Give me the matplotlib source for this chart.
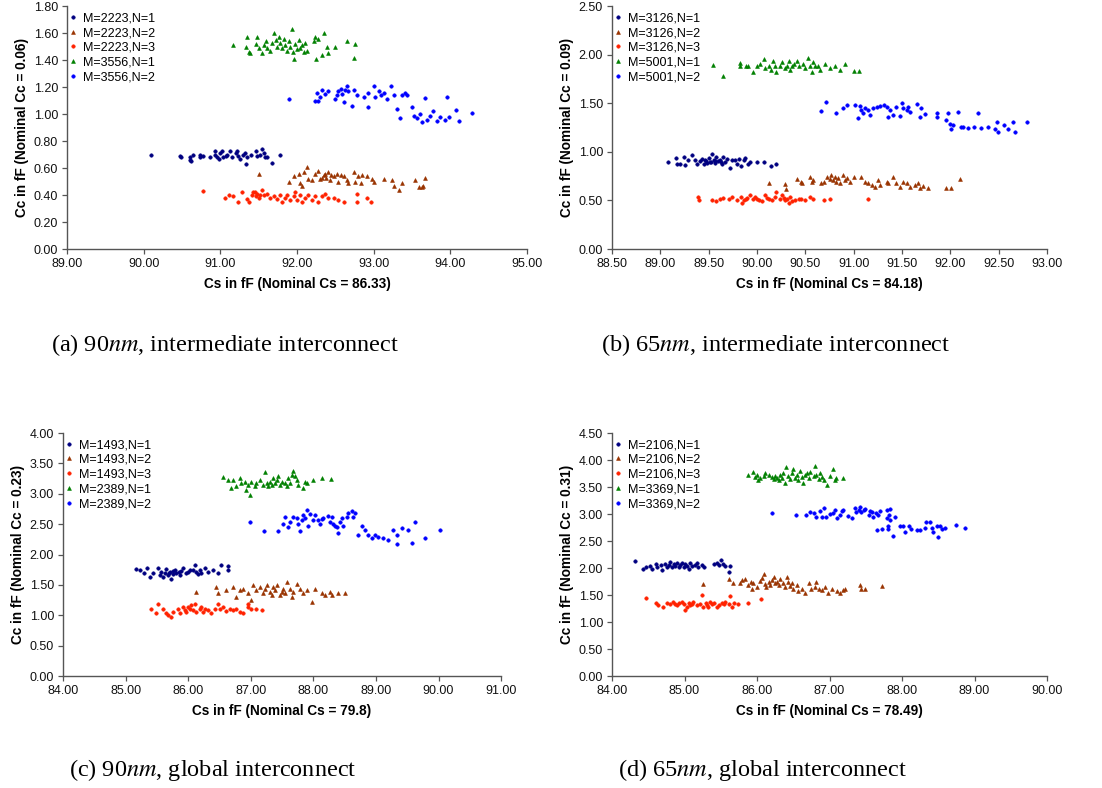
import matplotlib
matplotlib.use("Agg")
import matplotlib.pyplot as plt
import numpy as np
from matplotlib.ticker import FormatStrFormatter, MultipleLocator

plt.rcParams['font.family'] = ['Liberation Sans', 'DejaVu Sans']
plt.rcParams['mathtext.fontset'] = 'stix'

# ---------------- datos (Cs, Cc) ----------------
# (a) 90nm intermedio
a_m1_n1 = [(90.09,0.70),(90.48,0.69),(90.49,0.68),(90.60,0.68),(90.61,0.66),(90.64,0.70),(90.62,0.65),(90.73,0.68),(90.74,0.70),(90.78,0.69),(90.87,0.68),(90.93,0.73),(90.93,0.70),(90.96,0.68),(91.00,0.71),(91.02,0.73),(91.04,0.68),(91.09,0.70),(91.13,0.73),(91.15,0.68),(91.20,0.71),(91.22,0.73),(91.23,0.69),(91.26,0.67),(91.30,0.70),(91.32,0.71),(91.33,0.63),(91.35,0.68),(91.46,0.73),(91.48,0.69),(91.52,0.70),(91.55,0.74),(91.58,0.68),(91.61,0.68),(91.67,0.64),(91.78,0.70),(90.98,0.67),(91.07,0.69),(91.40,0.70),(91.57,0.71)]
a_m1_n2 = [(91.50,0.56),(91.89,0.50),(91.96,0.54),(92.02,0.56),(92.04,0.49),(92.07,0.47),(92.09,0.57),(92.13,0.61),(92.15,0.52),(92.20,0.51),(92.24,0.56),(92.28,0.58),(92.30,0.52),(92.35,0.55),(92.37,0.56),(92.41,0.57),(92.43,0.51),(92.48,0.54),(92.52,0.56),(92.54,0.50),(92.57,0.55),(92.61,0.54),(92.65,0.51),(92.67,0.49),(92.74,0.57),(92.76,0.50),(92.80,0.54),(92.83,0.49),(92.85,0.55),(92.91,0.54),(92.98,0.52),(93.00,0.50),(93.13,0.52),(93.24,0.51),(93.26,0.47),(93.33,0.44),(93.37,0.49),(93.54,0.51),(93.59,0.46),(93.63,0.46),(93.65,0.47),(93.67,0.53),(92.38,0.53),(92.45,0.55),(92.33,0.53)]
a_m1_n3 = [(90.77,0.43),(91.06,0.38),(91.11,0.40),(91.17,0.39),(91.23,0.35),(91.28,0.42),(91.35,0.37),(91.37,0.35),(91.41,0.40),(91.43,0.42),(91.46,0.39),(91.48,0.41),(91.50,0.38),(91.54,0.44),(91.57,0.40),(91.61,0.41),(91.65,0.38),(91.70,0.39),(91.74,0.37),(91.78,0.40),(91.80,0.35),(91.85,0.38),(91.87,0.40),(91.91,0.36),(91.96,0.39),(91.98,0.42),(92.00,0.36),(92.04,0.40),(92.07,0.35),(92.11,0.38),(92.15,0.40),(92.20,0.36),(92.24,0.39),(92.28,0.35),(92.33,0.39),(92.37,0.41),(92.41,0.38),(92.48,0.38),(92.54,0.36),(92.61,0.35),(92.78,0.41),(92.78,0.35),(92.91,0.38),(92.96,0.35),(91.45,0.42),(91.52,0.40)]
a_m2_n1 = [(91.17,1.51),(91.33,1.50),(91.35,1.57),(91.37,1.46),(91.39,1.45),(91.46,1.52),(91.48,1.57),(91.50,1.49),(91.54,1.45),(91.57,1.51),(91.59,1.54),(91.61,1.49),(91.65,1.47),(91.67,1.53),(91.70,1.60),(91.72,1.55),(91.74,1.50),(91.76,1.57),(91.78,1.53),(91.80,1.49),(91.83,1.56),(91.85,1.51),(91.87,1.47),(91.89,1.54),(91.91,1.50),(91.93,1.63),(91.95,1.46),(91.96,1.41),(91.98,1.52),(92.00,1.48),(92.02,1.55),(92.04,1.49),(92.07,1.51),(92.09,1.46),(92.11,1.53),(92.13,1.47),(92.22,1.54),(92.24,1.57),(92.25,1.41),(92.28,1.56),(92.33,1.44),(92.35,1.60),(92.39,1.50),(92.41,1.45),(92.50,1.50),(92.65,1.54),(92.74,1.42),(92.76,1.52)]
a_m2_n2 = [(91.90,1.11),(92.24,1.10),(92.26,1.16),(92.28,1.10),(92.30,1.13),(92.33,1.18),(92.37,1.15),(92.41,1.17),(92.50,1.11),(92.52,1.14),(92.54,1.17),(92.57,1.19),(92.59,1.15),(92.61,1.09),(92.63,1.18),(92.65,1.21),(92.67,1.17),(92.72,1.06),(92.74,1.18),(92.78,1.14),(92.87,1.13),(92.92,1.05),(92.93,1.16),(93.00,1.21),(93.02,1.13),(93.07,1.17),(93.09,1.14),(93.13,1.16),(93.17,1.11),(93.23,1.21),(93.26,1.14),(93.30,1.04),(93.35,0.97),(93.37,1.14),(93.41,1.16),(93.43,1.14),(93.50,1.05),(93.52,0.99),(93.57,0.97),(93.61,1.00),(93.63,0.94),(93.67,1.12),(93.70,0.96),(93.74,0.99),(93.78,1.02),(93.83,0.95),(93.87,0.98),(93.93,0.96),(93.96,1.13),(93.98,0.98),(94.07,1.03),(94.11,0.95),(94.28,1.01)]

# (b) 65nm intermedio
b_m1_n1 = [(89.08,0.90),(89.16,0.94),(89.17,0.88),(89.20,0.88),(89.24,0.95),(89.25,0.87),(89.29,0.92),(89.33,0.97),(89.36,0.92),(89.38,0.88),(89.41,0.91),(89.43,0.93),(89.45,0.88),(89.46,0.92),(89.48,0.89),(89.50,0.94),(89.52,0.90),(89.53,0.98),(89.55,0.92),(89.57,0.89),(89.58,0.95),(89.60,0.91),(89.62,0.92),(89.64,0.88),(89.65,0.95),(89.67,0.90),(89.69,0.93),(89.72,0.83),(89.74,0.92),(89.77,0.92),(89.79,0.88),(89.81,0.93),(89.83,0.86),(89.86,0.92),(89.88,0.94),(89.91,0.88),(89.93,0.90),(90.00,0.90),(90.07,0.90),(90.14,0.86),(90.20,0.88),(89.47,0.91),(89.51,0.90),(89.56,0.91),(89.63,0.90)]
b_m1_n2 = [(90.12,0.68),(90.29,0.67),(90.30,0.62),(90.41,0.72),(90.45,0.69),(90.47,0.68),(90.55,0.74),(90.57,0.69),(90.58,0.71),(90.66,0.68),(90.69,0.69),(90.72,0.74),(90.75,0.72),(90.77,0.76),(90.79,0.71),(90.81,0.74),(90.82,0.69),(90.84,0.73),(90.86,0.68),(90.89,0.76),(90.91,0.71),(90.93,0.73),(90.96,0.69),(91.00,0.74),(91.08,0.74),(91.12,0.69),(91.15,0.68),(91.19,0.66),(91.22,0.64),(91.25,0.71),(91.27,0.66),(91.34,0.69),(91.36,0.68),(91.41,0.74),(91.44,0.68),(91.48,0.64),(91.51,0.69),(91.55,0.68),(91.58,0.64),(91.63,0.66),(91.67,0.68),(91.69,0.63),(91.72,0.65),(91.77,0.63),(91.96,0.63),(92.01,0.63),(92.10,0.72)]
b_m1_n3 = [(89.39,0.54),(89.40,0.50),(89.53,0.50),(89.58,0.49),(89.62,0.52),(89.65,0.53),(89.71,0.52),(89.74,0.54),(89.79,0.50),(89.83,0.54),(89.84,0.47),(89.86,0.50),(89.89,0.52),(89.93,0.56),(89.96,0.52),(89.98,0.54),(90.02,0.50),(90.05,0.49),(90.08,0.56),(90.12,0.52),(90.15,0.50),(90.19,0.54),(90.20,0.59),(90.24,0.52),(90.26,0.56),(90.29,0.50),(90.31,0.52),(90.34,0.54),(90.36,0.49),(90.39,0.50),(90.43,0.51),(90.46,0.52),(90.50,0.50),(90.55,0.54),(90.58,0.52),(90.69,0.50),(90.76,0.52),(91.15,0.52),(89.90,0.53),(90.00,0.52),(90.10,0.53),(90.28,0.53),(90.33,0.47)]
b_m2_n1 = [(89.54,1.90),(89.65,1.78),(89.82,1.92),(89.82,1.88),(89.89,1.88),(89.91,1.89),(89.96,1.82),(90.00,1.89),(90.03,1.91),(90.07,1.96),(90.08,1.86),(90.12,1.89),(90.14,1.84),(90.17,1.94),(90.19,1.89),(90.20,1.82),(90.24,1.88),(90.26,1.93),(90.29,1.86),(90.31,1.89),(90.33,1.94),(90.34,1.84),(90.36,1.88),(90.38,1.91),(90.41,1.94),(90.43,1.88),(90.48,1.91),(90.50,1.86),(90.53,1.97),(90.55,1.89),(90.57,1.82),(90.58,1.93),(90.60,1.88),(90.63,1.89),(90.65,1.84),(90.70,1.91),(90.76,1.86),(90.81,1.88),(90.86,1.84),(90.91,1.91),(91.00,1.83),(91.05,1.83)]
b_m2_n2 = [(90.66,1.42),(90.71,1.51),(90.82,1.40),(90.89,1.45),(90.93,1.48),(91.01,1.48),(91.04,1.35),(91.07,1.47),(91.08,1.43),(91.10,1.40),(91.12,1.45),(91.15,1.43),(91.17,1.38),(91.20,1.45),(91.24,1.46),(91.27,1.47),(91.31,1.48),(91.34,1.46),(91.36,1.36),(91.38,1.43),(91.41,1.38),(91.44,1.46),(91.48,1.37),(91.50,1.50),(91.51,1.45),(91.55,1.43),(91.56,1.46),(91.58,1.41),(91.65,1.49),(91.69,1.36),(91.70,1.45),(91.74,1.39),(91.86,1.40),(91.86,1.36),(91.96,1.33),(91.98,1.40),(92.00,1.29),(92.01,1.24),(92.03,1.28),(92.08,1.41),(92.11,1.26),(92.13,1.26),(92.18,1.25),(92.24,1.26),(92.29,1.40),(92.32,1.25),(92.39,1.26),(92.46,1.24),(92.48,1.31),(92.49,1.21),(92.55,1.28),(92.60,1.24),(92.65,1.31),(92.67,1.21),(92.79,1.31)]

# (c) 90nm global
c_m1_n1 = [(85.17,1.76),(85.23,1.74),(85.29,1.70),(85.34,1.77),(85.39,1.63),(85.44,1.70),(85.52,1.77),(85.55,1.66),(85.57,1.72),(85.60,1.63),(85.63,1.69),(85.65,1.76),(85.68,1.66),(85.71,1.72),(85.73,1.59),(85.76,1.68),(85.79,1.74),(85.81,1.70),(85.87,1.66),(85.89,1.73),(85.92,1.77),(85.97,1.70),(86.03,1.74),(86.11,1.82),(86.13,1.72),(86.16,1.68),(86.19,1.74),(86.21,1.70),(86.27,1.77),(86.32,1.72),(86.40,1.74),(86.48,1.70),(86.52,1.82),(86.64,1.81),(86.64,1.74),(85.70,1.70),(85.75,1.73),(85.85,1.71),(86.00,1.72),(86.08,1.75)]
c_m1_n2 = [(86.12,1.38),(86.45,1.46),(86.48,1.36),(86.61,1.41),(86.72,1.47),(86.77,1.30),(86.83,1.41),(86.88,1.44),(86.96,1.37),(87.01,1.25),(87.04,1.50),(87.09,1.41),(87.15,1.47),(87.20,1.36),(87.23,1.44),(87.26,1.50),(87.31,1.39),(87.34,1.33),(87.36,1.47),(87.39,1.41),(87.42,1.50),(87.47,1.33),(87.50,1.39),(87.52,1.44),(87.55,1.36),(87.58,1.55),(87.63,1.44),(87.66,1.30),(87.68,1.39),(87.74,1.52),(87.79,1.44),(87.84,1.36),(87.90,1.41),(87.98,1.22),(88.03,1.44),(88.14,1.37),(88.19,1.33),(88.27,1.39),(88.30,1.33),(88.40,1.36),(88.51,1.37)]
c_m1_n3 = [(85.40,1.11),(85.49,1.04),(85.52,1.18),(85.59,1.10),(85.65,1.04),(85.68,1.00),(85.73,0.97),(85.76,1.06),(85.84,1.10),(85.87,1.04),(85.92,1.14),(85.95,1.08),(85.97,1.06),(86.00,1.14),(86.03,1.11),(86.05,1.17),(86.08,1.08),(86.11,1.19),(86.13,1.06),(86.19,1.11),(86.21,1.14),(86.24,1.06),(86.27,1.11),(86.32,1.08),(86.37,1.04),(86.43,1.11),(86.48,1.19),(86.51,1.10),(86.56,1.14),(86.61,1.07),(86.67,1.11),(86.72,1.08),(86.77,1.11),(86.83,1.06),(86.87,1.04),(86.95,1.18),(86.96,1.14),(87.01,1.10),(87.09,1.10),(87.18,1.09)]
c_m2_n1 = [(86.55,3.27),(86.64,3.23),(86.69,3.09),(86.72,3.22),(86.77,3.12),(86.82,3.26),(86.85,3.18),(86.91,3.20),(86.93,3.07),(86.96,3.15),(86.99,2.98),(87.01,3.20),(87.07,3.12),(87.09,3.18),(87.15,3.23),(87.20,3.15),(87.23,3.35),(87.26,3.18),(87.28,3.12),(87.31,3.20),(87.34,3.15),(87.36,3.26),(87.39,3.18),(87.42,3.22),(87.44,3.29),(87.47,3.15),(87.50,3.20),(87.55,3.18),(87.58,3.12),(87.60,3.26),(87.63,3.18),(87.66,3.31),(87.68,3.37),(87.71,3.29),(87.74,3.23),(87.76,3.15),(87.84,3.09),(87.87,3.20),(87.90,3.18),(88.00,3.23),(88.14,3.26),(88.28,3.24)]
c_m2_n2 = [(86.98,2.54),(87.21,2.39),(87.44,2.39),(87.51,2.51),(87.55,2.61),(87.60,2.46),(87.63,2.54),(87.68,2.62),(87.74,2.60),(87.76,2.51),(87.79,2.38),(87.82,2.57),(87.84,2.65),(87.87,2.60),(87.90,2.73),(87.92,2.47),(87.95,2.67),(88.00,2.57),(88.03,2.65),(88.08,2.57),(88.11,2.50),(88.14,2.58),(88.16,2.60),(88.24,2.64),(88.27,2.54),(88.30,2.62),(88.32,2.51),(88.35,2.47),(88.38,2.46),(88.40,2.35),(88.43,2.54),(88.46,2.60),(88.48,2.47),(88.54,2.62),(88.56,2.69),(88.62,2.71),(88.64,2.61),(88.67,2.69),(88.72,2.32),(88.78,2.47),(88.83,2.40),(88.88,2.32),(88.94,2.27),(88.99,2.32),(89.04,2.29),(89.12,2.27),(89.20,2.24),(89.28,2.40),(89.34,2.32),(89.34,2.17),(89.42,2.43),(89.52,2.40),(89.58,2.19),(89.63,2.54),(89.79,2.28),(90.02,2.40)]

# (d) 65nm global
d_m1_n1 = [(84.31,2.13),(84.43,1.98),(84.47,2.02),(84.53,2.04),(84.55,1.98),(84.60,2.07),(84.62,2.02),(84.67,2.06),(84.69,1.96),(84.73,2.07),(84.76,2.02),(84.78,2.06),(84.80,2.12),(84.83,2.02),(84.85,2.07),(84.87,2.04),(84.90,2.09),(84.92,2.02),(84.94,2.06),(84.96,2.10),(84.99,2.01),(85.01,2.07),(85.03,2.04),(85.06,1.99),(85.08,2.09),(85.10,2.04),(85.15,2.06),(85.17,2.10),(85.19,2.02),(85.24,2.06),(85.27,2.02),(85.40,2.07),(85.45,2.10),(85.47,2.06),(85.50,2.14),(85.53,2.07),(85.56,2.04),(85.61,1.93),(85.63,2.04)]
d_m1_n2 = [(85.26,1.70),(85.62,1.79),(85.67,1.73),(85.77,1.72),(85.79,1.78),(85.84,1.79),(85.88,1.68),(85.91,1.75),(85.93,1.62),(85.95,1.72),(86.00,1.65),(86.04,1.76),(86.07,1.81),(86.09,1.89),(86.11,1.70),(86.13,1.65),(86.16,1.75),(86.18,1.68),(86.20,1.78),(86.23,1.83),(86.25,1.72),(86.27,1.75),(86.30,1.68),(86.32,1.79),(86.36,1.72),(86.39,1.65),(86.41,1.83),(86.43,1.75),(86.46,1.67),(86.48,1.72),(86.50,1.62),(86.55,1.68),(86.57,1.58),(86.62,1.62),(86.66,1.53),(86.71,1.72),(86.75,1.62),(86.80,1.65),(86.82,1.75),(86.85,1.62),(86.89,1.59),(86.94,1.65),(86.98,1.53),(87.03,1.62),(87.10,1.58),(87.15,1.53),(87.19,1.59),(87.21,1.62),(87.42,1.68),(87.44,1.62),(87.49,1.62),(87.73,1.67)]
d_m1_n3 = [(84.47,1.44),(84.61,1.36),(84.64,1.31),(84.70,1.28),(84.76,1.36),(84.80,1.33),(84.84,1.37),(84.87,1.34),(84.90,1.31),(84.93,1.36),(84.96,1.37),(84.99,1.33),(85.01,1.22),(85.03,1.28),(85.06,1.36),(85.08,1.31),(85.10,1.34),(85.12,1.37),(85.17,1.31),(85.22,1.34),(85.24,1.50),(85.26,1.28),(85.29,1.36),(85.31,1.31),(85.33,1.27),(85.35,1.37),(85.38,1.33),(85.40,1.36),(85.45,1.28),(85.47,1.31),(85.52,1.36),(85.54,1.33),(85.56,1.37),(85.61,1.34),(85.63,1.48),(85.65,1.28),(85.68,1.36),(85.74,1.34),(85.87,1.36),(86.05,1.42)]
d_m2_n1 = [(85.88,3.73),(85.94,3.77),(85.97,3.68),(86.00,3.73),(86.02,3.63),(86.04,3.66),(86.09,3.71),(86.11,3.76),(86.16,3.73),(86.20,3.68),(86.23,3.65),(86.25,3.70),(86.27,3.66),(86.30,3.63),(86.32,3.73),(86.34,3.66),(86.36,3.76),(86.39,3.57),(86.40,3.87),(86.43,3.70),(86.46,3.65),(86.48,3.76),(86.50,3.83),(86.53,3.66),(86.55,3.73),(86.57,3.63),(86.59,3.79),(86.62,3.68),(86.64,3.57),(86.66,3.73),(86.69,3.76),(86.71,3.66),(86.73,3.77),(86.78,3.71),(86.80,3.88),(86.82,3.73),(86.85,3.65),(86.87,3.76),(86.89,3.68),(86.92,3.63),(86.96,3.54),(87.01,3.70),(87.05,3.83),(87.08,3.63),(87.09,3.66),(87.19,3.66)]
d_m2_n2 = [(86.20,3.01),(86.54,2.98),(86.68,2.98),(86.73,3.03),(86.78,3.01),(86.82,2.95),(86.87,3.05),(86.89,2.94),(86.92,3.11),(86.95,2.95),(87.01,3.00),(87.05,3.01),(87.08,3.08),(87.10,2.92),(87.14,2.98),(87.17,3.05),(87.19,3.08),(87.26,2.97),(87.31,2.92),(87.35,3.11),(87.37,3.03),(87.40,3.08),(87.42,3.13),(87.44,3.03),(87.47,3.08),(87.49,3.09),(87.54,2.98),(87.56,3.06),(87.58,3.03),(87.60,2.95),(87.64,3.01),(87.67,2.98),(87.70,3.06),(87.79,3.08),(87.79,2.92),(87.82,2.98),(87.83,2.89),(87.84,3.09),(87.66,2.71),(87.72,2.72),(87.80,2.77),(87.81,2.72),(87.88,2.59),(87.90,2.95),(87.97,2.77),(88.01,2.78),(88.04,2.67),(88.09,2.78),(88.13,2.72),(88.20,2.71),(88.25,2.71),(88.32,2.75),(88.33,2.86),(88.38,2.86),(88.41,2.74),(88.43,2.67),(88.48,2.77),(88.50,2.58),(88.52,2.78),(88.55,2.72),(88.59,2.74),(88.74,2.80),(88.87,2.74)]

etiquetas_a = ["M=2223,N=1", "M=2223,N=2", "M=2223,N=3", "M=3556,N=1", "M=3556,N=2"]
etiquetas_b = ["M=3126,N=1", "M=3126,N=2", "M=3126,N=3", "M=5001,N=1", "M=5001,N=2"]
etiquetas_c = ["M=1493,N=1", "M=1493,N=2", "M=1493,N=3", "M=2389,N=1", "M=2389,N=2"]
etiquetas_d = ["M=2106,N=1", "M=2106,N=2", "M=2106,N=3", "M=3369,N=1", "M=3369,N=2"]

# estilo de cada serie (color, marcador, tamano)
estilos = [("#000080", "o", 2.5), ("#993300", "^", 2.8), ("#FF2200", "o", 2.5),
           ("#008000", "^", 2.8), ("#0000FF", "o", 2.5)]


def dibujarPanel(pos, series, etiquetas, xlim, xpaso, ylim, ypaso, xlabel, ylabel):
    ax = fig.add_axes(pos)
    for datos, etiqueta, (color, marca, tam) in zip(series, etiquetas, estilos):
        arr = np.array(datos)
        ax.plot(arr[:, 0], arr[:, 1], linestyle="none", marker=marca, markersize=tam,
                color=color, markeredgewidth=0.4, label=etiqueta)
    ax.set_xlim(xlim)
    ax.set_ylim(ylim)
    ax.xaxis.set_major_locator(MultipleLocator(xpaso))
    ax.yaxis.set_major_locator(MultipleLocator(ypaso))
    ax.xaxis.set_major_formatter(FormatStrFormatter("%.2f"))
    ax.yaxis.set_major_formatter(FormatStrFormatter("%.2f"))
    for lado in ["top", "right"]:
        ax.spines[lado].set_visible(False)
    for lado in ["left", "bottom"]:
        ax.spines[lado].set_color("#555555")
        ax.spines[lado].set_linewidth(1.0)
    ax.tick_params(direction="out", length=3.5, width=0.9, color="#555555",
                   labelsize=9, labelcolor="#111111", pad=3)
    ax.set_xlabel(xlabel, fontsize=9.8, fontweight="bold", labelpad=5)
    ax.set_ylabel(ylabel, fontsize=9.8, fontweight="bold", labelpad=3)
    ax.legend(loc="upper left", bbox_to_anchor=(0.005, 0.975), frameon=False,
              fontsize=9, handlelength=0.6, handletextpad=0.5, labelspacing=0.22,
              borderaxespad=0, borderpad=0, markerscale=1.0)
    return ax


fig = plt.figure(figsize=(11.02, 7.88), dpi=100)

dibujarPanel([0.0608, 0.684, 0.4174, 0.308], [a_m1_n1, a_m1_n2, a_m1_n3, a_m2_n1, a_m2_n2],
             etiquetas_a, (89, 95), 1, (0, 1.8), 0.2,
             "Cs in fF (Nominal Cs = 86.33)", "Cc in fF (Nominal Cc = 0.06)")
dibujarPanel([0.5554, 0.684, 0.3947, 0.308], [b_m1_n1, b_m1_n2, b_m1_n3, b_m2_n1, b_m2_n2],
             etiquetas_b, (88.5, 93), 0.5, (0, 2.5), 0.5,
             "Cs in fF (Nominal Cs = 84.18)", "Cc in fF (Nominal Cc = 0.09)")
dibujarPanel([0.0572, 0.1421, 0.3975, 0.3084], [c_m1_n1, c_m1_n2, c_m1_n3, c_m2_n1, c_m2_n2],
             etiquetas_c, (84, 91), 1, (0, 4), 0.5,
             "Cs in fF (Nominal Cs = 79.8)", "Cc in fF (Nominal Cc = 0.23)")
dibujarPanel([0.5554, 0.1421, 0.3947, 0.3084], [d_m1_n1, d_m1_n2, d_m1_n3, d_m2_n1, d_m2_n2],
             etiquetas_d, (84, 90), 1, (0, 4.5), 0.5,
             "Cs in fF (Nominal Cs = 78.49)", "Cc in fF (Nominal Cc = 0.31)")

# subtitulos de cada panel
estiloCaption = dict(fontsize=17.5, family="Liberation Serif", ha="center", va="center")
fig.text(225 / 1102, 1 - 345 / 788, r"(a) 90$nm$, intermediate interconnect", **estiloCaption)
fig.text(776 / 1102, 1 - 345 / 788, r"(b) 65$nm$, intermediate interconnect", **estiloCaption)
fig.text(213 / 1102, 1 - 770 / 788, r"(c) 90$nm$, global interconnect", **estiloCaption)
fig.text(762 / 1102, 1 - 770 / 788, r"(d) 65$nm$, global interconnect", **estiloCaption)

fig.savefig("out.png", dpi=100)
